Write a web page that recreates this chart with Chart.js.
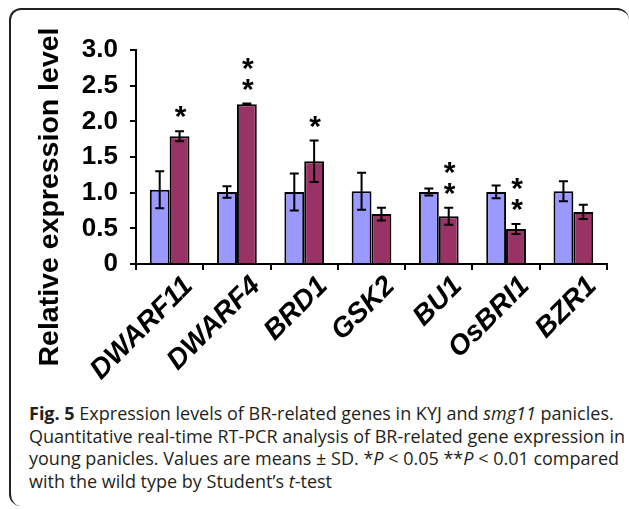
<!DOCTYPE html>
<html>
<head>
<meta charset="utf-8">
<script src="https://cdn.jsdelivr.net/npm/chart.js@4.4.0/dist/chart.umd.min.js"></script>
<style>
  html, body { margin: 0; padding: 0; background: #fff; }
  body { width: 629px; height: 509px; position: relative; overflow: hidden; }
  #frame {
    position: absolute; left: 9px; top: 8px; width: 620px; height: 498px;
    box-sizing: border-box;
    border-top: 2px solid #222; border-left: 2px solid #222;
    border-radius: 12px 12px 0 12px;
  }
  #wrap { position: absolute; left: 0; top: 0; width: 629px; height: 400px; }
  #caption {
    position: absolute; left: 29px; top: 402px; width: 600px;
    font-family: "Open Sans", sans-serif; font-size: 18px; line-height: 22.5px;
    color: #231f20; white-space: nowrap;
  }
</style>
</head>
<body>
<div id="frame"></div>
<div id="wrap"><canvas id="chart" width="629" height="400"></canvas></div>
<div id="caption"><b>Fig. 5</b> Expression levels of BR-related genes in KYJ and <i>smg11</i> panicles.<br>Quantitative real-time RT-PCR analysis of BR-related gene expression in<br>young panicles. Values are means ± SD. *<i>P</i> &lt; 0.05 **<i>P</i> &lt; 0.01 compared<br>with the wild type by Student’s <i>t</i>-test</div>
<script>
// données
const genes = ["DWARF11", "DWARF4", "BRD1", "GSK2", "BU1", "OsBRI1", "BZR1"];
const kyjMean = [1.04, 1.01, 1.01, 1.02, 1.01, 1.01, 1.02];
const kyjSd = [0.26, 0.08, 0.26, 0.26, 0.05, 0.09, 0.14];
const smgMean = [1.79, 2.24, 1.44, 0.70, 0.67, 0.49, 0.73];
const smgSd = [0.07, 0.01, 0.29, 0.09, 0.12, 0.07, 0.10];
const stars = ["*", "**", "*", "", "**", "**", ""];
const yTicks = ["0", "0.5", "1.0", "1.5", "2.0", "2.5", "3.0"];

const boldFont = "Liberation Sans, Arial, sans-serif";

// barres d'erreur (moyenne ± SD)
const errorBars = {
  id: "errorBars",
  afterDatasetsDraw(chart) {
    const { ctx } = chart;
    const y = chart.scales.y;
    ctx.save();
    ctx.strokeStyle = "#000";
    ctx.lineWidth = 2;
    chart.data.datasets.forEach((ds, i) => {
      chart.getDatasetMeta(i).data.forEach((bar, j) => {
        const top = y.getPixelForValue(ds.data[j] + ds.sd[j]);
        const bot = y.getPixelForValue(ds.data[j] - ds.sd[j]);
        ctx.beginPath();
        ctx.moveTo(bar.x, top); ctx.lineTo(bar.x, bot);
        ctx.moveTo(bar.x - 4.5, top); ctx.lineTo(bar.x + 4.5, top);
        ctx.moveTo(bar.x - 4.5, bot); ctx.lineTo(bar.x + 4.5, bot);
        ctx.stroke();
      });
    });
    ctx.restore();
  }
};

// astérisques au-dessus des barres smg11
const starMarks = {
  id: "starMarks",
  afterDatasetsDraw(chart) {
    const { ctx } = chart;
    const y = chart.scales.y;
    const bars = chart.getDatasetMeta(1).data;
    ctx.save();
    ctx.fillStyle = "#000";
    ctx.font = "bold 30px " + boldFont;
    ctx.textAlign = "center";
    ctx.textBaseline = "alphabetic";
    stars.forEach((s, j) => {
      const top = y.getPixelForValue(smgMean[j] + smgSd[j]);
      for (let k = 0; k < s.length; k++) {
        const cy = top - 22 - k * 21;
        ctx.fillText("*", bars[j].x + 1, cy + 17);
      }
    });
    ctx.restore();
  }
};

// titre de l'axe Y
const yTitle = {
  id: "yTitle",
  afterDraw(chart) {
    const { ctx } = chart;
    ctx.save();
    ctx.translate(50, 197);
    ctx.rotate(-Math.PI / 2);
    ctx.fillStyle = "#000";
    ctx.font = "bold 28.5px " + boldFont;
    ctx.textAlign = "center";
    ctx.textBaseline = "middle";
    ctx.fillText("Relative expression level", 0, 0);
    ctx.restore();
  }
};

new Chart(document.getElementById("chart"), {
  type: "bar",
  data: {
    labels: genes,
    datasets: [
      { label: "KYJ", data: kyjMean, sd: kyjSd, backgroundColor: "#9999ff", borderColor: "#000", borderWidth: 2 },
      { label: "smg11", data: smgMean, sd: smgSd, backgroundColor: "#993366", borderColor: "#000", borderWidth: 2 },
    ],
  },
  options: {
    responsive: false,
    animation: false,
    categoryPercentage: 0.59,
    barPercentage: 1,
    layout: { padding: { left: 0, right: 22, top: 50, bottom: 0 } },
    plugins: { legend: { display: false }, tooltip: { enabled: false } },
    scales: {
      x: {
        grid: { drawOnChartArea: false, color: "#000", lineWidth: 2, tickLength: 6 },
        border: { color: "#000", width: 2 },
        ticks: {
          color: "#000",
          font: { family: boldFont, size: 28, weight: "bold", style: "italic" },
          minRotation: 45, maxRotation: 45, labelOffset: 19, padding: 0, autoSkip: false,
        },
        afterFit: (s) => { s.height = 136; },
      },
      y: {
        min: 0, max: 3,
        ticks: {
          stepSize: 0.5, color: "#000", padding: 12,
          font: { family: boldFont, size: 26, weight: "bold" },
          callback: (v, i) => yTicks[i],
        },
        grid: { drawOnChartArea: false, color: "#000", lineWidth: 2, tickLength: 6 },
        border: { color: "#000", width: 2 },
        afterFit: (s) => { s.width = 136; },
      },
    },
  },
  plugins: [errorBars, starMarks, yTitle],
});
</script>
</body>
</html>
